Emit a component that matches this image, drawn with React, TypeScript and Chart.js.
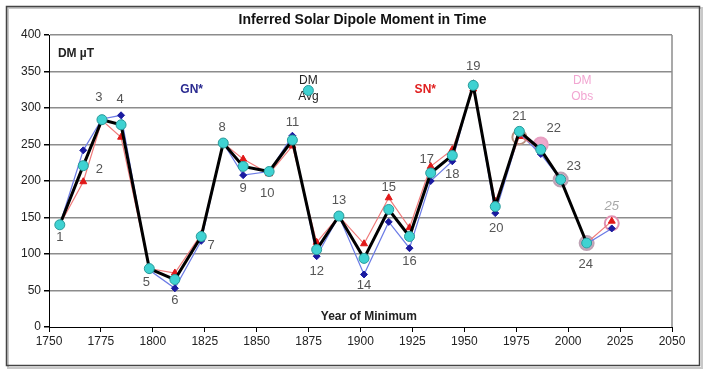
import React, { useEffect, useRef } from "react";
import { Chart, registerables } from "chart.js";

Chart.register(...registerables);

// ---- Data ----
const cycleLabels = ["1","2","3","4","5","6","7","8","9","10","11","12","13","14","15","16","17","18","19","20","21","22","23","24","25"];
const minimumYears = [1755.2, 1766.5, 1775.5, 1784.7, 1798.3, 1810.6, 1823.3, 1833.9, 1843.5, 1856.0, 1867.2, 1878.9, 1889.6, 1901.7, 1913.6, 1923.6, 1933.8, 1944.2, 1954.3, 1964.9, 1976.5, 1986.8, 1996.4, 2008.9, 2021.0];
const gnValues = [140, 242, 285, 290, 78, 53, 118, 252, 208, 213, 262, 97, 152, 72, 144, 108, 200, 227, 333, 156, 265, 237, 202, 114, 135];
const snValues = [140, 199, 283, 260, 80, 74, 127, 252, 230, 210, 248, 116, 152, 114, 177, 136, 220, 243, 326, 172, 261, 245, 202, 115, 145];
const avgValues = [140, 221, 284, 277, 80, 65, 124, 252, 220, 213, 256, 106, 152, 94, 161, 124, 211, 235, 331, 165, 268, 243, 202, 115, null];
const obsValues = [null, null, null, null, null, null, null, null, null, null, null, null, null, null, null, null, null, null, null, null, 260, 250, 202, 115, 142];

// label placement (pixel offsets from the DM Avg / observed point)
const labelOffsets: [number, number][] = [
  [0, 13], [16, 4], [-3, -22], [-1, -25], [-3, 14], [0, 21], [10, 9], [-1, -16], [0, 22], [-2, 22],
  [0, -18], [0, 22], [0, -16], [0, 27], [0, -22], [0, 25], [-4, -14], [0, 19], [0, -19], [1, 22],
  [0, -15], [13, -21], [13, -13], [-1, 21], [0, -17],
];

const chartTitle = "Inferred Solar Dipole Moment in Time";
const xAxisTitle = "Year of Minimum";

type Note = { text: string; year: number; value: number; color: string; bold: boolean };
const notes: Note[] = [
  { text: "DM \u00b5T", year: 1763, value: 374, color: "#222222", bold: true },
  { text: "GN*", year: 1818.7, value: 325, color: "#2a2a90", bold: true },
  { text: "DM", year: 1874.9, value: 337, color: "#222222", bold: false },
  { text: "Avg", year: 1874.9, value: 315, color: "#222222", bold: false },
  { text: "SN*", year: 1931.2, value: 325, color: "#e02020", bold: true },
  { text: "DM", year: 2006.8, value: 337, color: "#f2a6d2", bold: false },
  { text: "Obs", year: 2006.8, value: 316, color: "#f2a6d2", bold: false },
];
const avgKeyPoint = { year: 1874.9, value: 324 };

const FONT = "'Liberation Sans', Arial, sans-serif";

const toXY = (ys: number[], vs: (number | null)[]) =>
  ys.map((yr, i) => ({ x: yr, y: vs[i] as number | null }));

export default function App() {
  const ref = useRef<HTMLCanvasElement | null>(null);

  useEffect(() => {
    const canvas = ref.current;
    if (!canvas) return;

    const overlay = {
      id: "overlay",
      beforeDraw(chart: any) {
        const ctx = chart.ctx;
        ctx.save();
        ctx.fillStyle = "#ffffff";
        ctx.fillRect(0, 0, chart.width, chart.height);
        ctx.strokeStyle = "#c8c8c8";
        ctx.lineWidth = 2;
        ctx.strokeRect(8, 8, 694, 360);
        ctx.strokeStyle = "#444444";
        ctx.lineWidth = 1.5;
        ctx.strokeRect(6.5, 6.5, 693, 359);
        ctx.restore();
      },
      afterDraw(chart: any) {
        const ctx = chart.ctx;
        const xs = chart.scales.x;
        const ys = chart.scales.y;
        const ca = chart.chartArea;
        ctx.save();
        // right border of plot area
        ctx.strokeStyle = "#8c8c8c";
        ctx.lineWidth = 1.5;
        ctx.beginPath();
        ctx.moveTo(ca.right, ca.top);
        ctx.lineTo(ca.right, ca.bottom);
        ctx.stroke();

        // title
        ctx.fillStyle = "#111111";
        ctx.textAlign = "center";
        ctx.textBaseline = "middle";
        ctx.font = `bold 14px ${FONT}`;
        ctx.fillText(chartTitle, (ca.left + ca.right) / 2 + 2, 20);

        // x axis title
        ctx.font = `bold 12px ${FONT}`;
        ctx.fillStyle = "#222222";
        ctx.fillText(xAxisTitle, xs.getPixelForValue(1904), ys.getPixelForValue(14));

        // annotations
        notes.forEach((n) => {
          ctx.font = `${n.bold ? "bold " : ""}12px ${FONT}`;
          ctx.fillStyle = n.color;
          ctx.fillText(n.text, xs.getPixelForValue(n.year), ys.getPixelForValue(n.value));
        });
        // DM Avg key marker
        ctx.beginPath();
        ctx.arc(xs.getPixelForValue(avgKeyPoint.year), ys.getPixelForValue(avgKeyPoint.value), 5, 0, Math.PI * 2);
        ctx.fillStyle = "#3fd2d2";
        ctx.fill();
        ctx.strokeStyle = "#2a9a9a";
        ctx.lineWidth = 1;
        ctx.stroke();

        // cycle number labels
        ctx.font = `13px ${FONT}`;
        cycleLabels.forEach((lab, i) => {
          const v = avgValues[i] != null ? (avgValues[i] as number) : (obsValues[i] as number);
          const px = xs.getPixelForValue(minimumYears[i]) + labelOffsets[i][0];
          const py = ys.getPixelForValue(v) + labelOffsets[i][1];
          if (i === 24) {
            ctx.font = `italic 13px ${FONT}`;
            ctx.fillStyle = "#a8a8a8";
          } else {
            ctx.font = `13px ${FONT}`;
            ctx.fillStyle = "#555555";
          }
          ctx.fillText(lab, px, py);
        });
        ctx.restore();
      },
    };

    const chart = new Chart(canvas, {
      type: "line",
      data: {
        datasets: [
          {
            label: "DM Avg",
            data: toXY(minimumYears, avgValues),
            borderColor: "#000000",
            borderWidth: 3,
            pointStyle: "circle",
            pointRadius: 5,
            pointBackgroundColor: "#3fd2d2",
            pointBorderColor: "#2a9a9a",
            pointBorderWidth: 1,
            order: 1,
            spanGaps: false,
          },
          {
            label: "SN*",
            data: toXY(minimumYears, snValues),
            borderColor: "#f07a7a",
            borderWidth: 1.2,
            pointStyle: "triangle",
            pointRadius: 4,
            pointBackgroundColor: "#e01818",
            pointBorderColor: "#e01818",
            pointBorderWidth: 1,
            order: 2,
          },
          {
            label: "GN*",
            data: toXY(minimumYears, gnValues),
            borderColor: "#6c7ce6",
            borderWidth: 1.2,
            pointStyle: "rectRot",
            pointRadius: 3.5,
            pointBackgroundColor: "#1a1aa0",
            pointBorderColor: "#1a1aa0",
            pointBorderWidth: 1,
            order: 3,
          },
          {
            label: "DM Obs",
            data: toXY(minimumYears, obsValues),
            showLine: false,
            pointStyle: "circle",
            pointRadius: 7,
            pointBackgroundColor: ["#ffffff", "#f0a8cc", "#dcb2ca", "#dcb2ca", "#ffffff"].reduce(
              (arr: string[], c: string) => arr.concat([c]),
              new Array(20).fill("#ffffff")
            ),
            pointBorderColor: ["#b89080", "#e8a0c2", "#bda2b4", "#bda2b4", "#e092b2"].reduce(
              (arr: string[], c: string) => arr.concat([c]),
              new Array(20).fill("#ffffff")
            ),
            pointBorderWidth: 2,
            order: 4,
          },
        ],
      },
      options: {
        animation: false,
        responsive: false,
        devicePixelRatio: 1,
        layout: { padding: { left: 0, right: 34, top: 35, bottom: 0 } },
        plugins: { legend: { display: false }, tooltip: { enabled: false }, title: { display: false } },
        scales: {
          x: {
            type: "linear",
            min: 1750,
            max: 2050,
            afterFit: (s: any) => { s.height = 46; },
            ticks: {
              stepSize: 25,
              color: "#222222",
              font: { family: FONT, size: 12 },
              padding: 2,
              maxRotation: 0,
              callback: (v: any) => String(v),
            },
            grid: {
              drawOnChartArea: false,
              drawTicks: true,
              tickLength: 5,
              tickColor: "#000000",
            },
            border: { color: "#000000", width: 1 },
          },
          y: {
            min: 0,
            max: 400,
            afterFit: (s: any) => { s.width = 49; },
            ticks: {
              stepSize: 50,
              color: "#222222",
              font: { family: FONT, size: 12 },
              padding: 3,
            },
            grid: {
              color: (c: any) => (c.tick && c.tick.value === 0 ? "rgba(0,0,0,0)" : "#8c8c8c"),
              lineWidth: 1.5,
              drawTicks: true,
              tickLength: 5,
              tickColor: "#000000",
            },
            border: { color: "#000000", width: 1 },
          },
        },
      },
      plugins: [overlay],
    } as any);

    return () => chart.destroy();
  }, []);

  return (
    <div style={{ position: "fixed", left: 0, top: 0, width: 706, height: 373, background: "#fff" }}>
      <canvas ref={ref} width={706} height={373} style={{ width: 706, height: 373, display: "block" }} />
    </div>
  );
}
